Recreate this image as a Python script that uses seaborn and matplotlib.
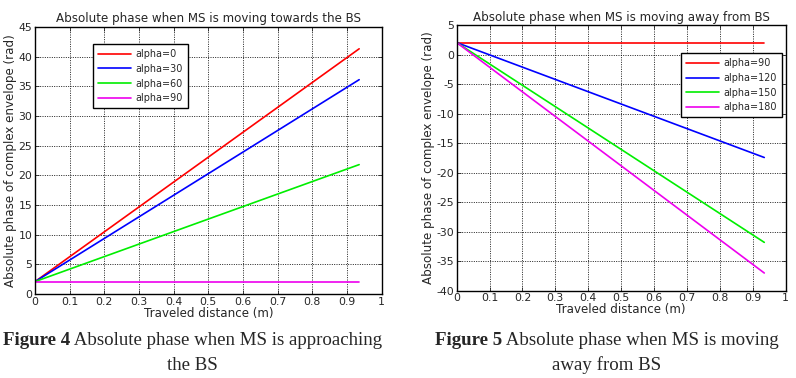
import matplotlib
matplotlib.use("Agg")
import matplotlib.pyplot as plt
import seaborn as sns
import pandas as pd

# ---- data ----
distance = [0.0, 0.935]

towards_labels = ["alpha=0", "alpha=30", "alpha=60", "alpha=90"]
towards_a0 = [2.1, 41.3]
towards_a30 = [2.1, 36.1]
towards_a60 = [2.1, 21.8]
towards_a90 = [2.1, 2.1]

away_labels = ["alpha=90", "alpha=120", "alpha=150", "alpha=180"]
away_a90 = [2.1, 2.1]
away_a120 = [2.1, -17.4]
away_a150 = [2.1, -31.8]
away_a180 = [2.1, -37.0]

x_ticks = [0, 0.1, 0.2, 0.3, 0.4, 0.5, 0.6, 0.7, 0.8, 0.9, 1]
x_tick_labels = ["0", "0.1", "0.2", "0.3", "0.4", "0.5", "0.6", "0.7", "0.8", "0.9", "1"]
y_ticks_left = [0, 5, 10, 15, 20, 25, 30, 35, 40, 45]
y_ticks_right = [5, 0, -5, -10, -15, -20, -25, -30, -35, -40]

colors = ["#ff0000", "#0000ff", "#00ee00", "#ee00ee"]


def long_df(labels, series):
    rows = []
    for lab, vals in zip(labels, series):
        for d, v in zip(distance, vals):
            rows.append({"d": d, "phase": v, "series": lab})
    return pd.DataFrame(rows)


df_left = long_df(towards_labels, [towards_a0, towards_a30, towards_a60, towards_a90])
df_right = long_df(away_labels, [away_a90, away_a120, away_a150, away_a180])

sns.set_style("ticks")
plt.rcParams["font.family"] = ["DejaVu Sans"]
plt.rcParams["xtick.direction"] = "in"
plt.rcParams["ytick.direction"] = "in"

fig = plt.figure(figsize=(7.96, 3.78), dpi=100)
ax1 = fig.add_axes([0.044, 0.222, 0.4355, 0.707])
ax2 = fig.add_axes([0.5737, 0.231, 0.4133, 0.7016])


def style(ax, yticks, ylim, title, legend_loc):
    ax.set_xlim(0, 1)
    ax.set_ylim(*ylim)
    ax.set_xticks(x_ticks)
    ax.set_xticklabels(x_tick_labels)
    ax.set_yticks(yticks)
    ax.set_yticklabels([str(t) for t in yticks])
    ax.tick_params(labelsize=7.8, length=3, width=0.6, pad=2, top=True, right=True)
    ax.grid(True, color="black", linestyle=(0, (1.2, 1.6)), linewidth=0.6)
    for s in ax.spines.values():
        s.set_linewidth(1.0)
        s.set_color("black")
        s.set_visible(True)
    ax.set_title(title, fontsize=8.6, pad=3.5)
    ax.set_xlabel("Traveled distance (m)", fontsize=8.6, labelpad=0)
    ax.set_ylabel("Absolute phase of complex envelope (rad)", fontsize=8.6, labelpad=1)
    leg = ax.legend(loc=legend_loc, fontsize=6.9, frameon=True, fancybox=False,
                    handlelength=3.4, borderpad=0.5, labelspacing=0.5,
                    handletextpad=0.5, borderaxespad=0.0)
    leg.get_frame().set_edgecolor("black")
    leg.get_frame().set_linewidth(1.0)
    leg.get_frame().set_alpha(1)


sns.lineplot(data=df_left, x="d", y="phase", hue="series", palette=colors,
             ax=ax1, linewidth=1.2)
style(ax1, y_ticks_left, (0, 45), "Absolute phase when MS is moving towards the BS", "upper left")
leg1 = ax1.get_legend()
leg1.set_bbox_to_anchor((0.168, 0.935))

sns.lineplot(data=df_right, x="d", y="phase", hue="series", palette=colors,
             ax=ax2, linewidth=1.2)
style(ax2, y_ticks_right, (-40, 5), "Absolute phase when MS is moving away from BS", "upper right")
leg2 = ax2.get_legend()
leg2.set_bbox_to_anchor((0.988, 0.895))

# captions
fig.canvas.draw()
r = fig.canvas.get_renderer()
for xc, num, rest1, rest2 in [(0.242, "4", " Absolute phase when MS is approaching", "the BS"),
                              (0.762, "5", " Absolute phase when MS is moving", "away from BS")]:
    bold = "Figure " + num
    tb = fig.text(0, 0, bold, fontsize=13.6, fontweight="bold", family="Liberation Serif")
    tr = fig.text(0, 0, rest1, fontsize=13.6, family="Liberation Serif")
    wb = tb.get_window_extent(r).width / fig.bbox.width
    wr = tr.get_window_extent(r).width / fig.bbox.width
    x0 = xc - (wb + wr) / 2
    tb.set_position((x0, 0.087))
    tr.set_position((x0 + wb, 0.087))
    fig.text(xc, 0.022, rest2, fontsize=13.6, family="Liberation Serif", ha="center")

fig.savefig("out.png", dpi=100)
